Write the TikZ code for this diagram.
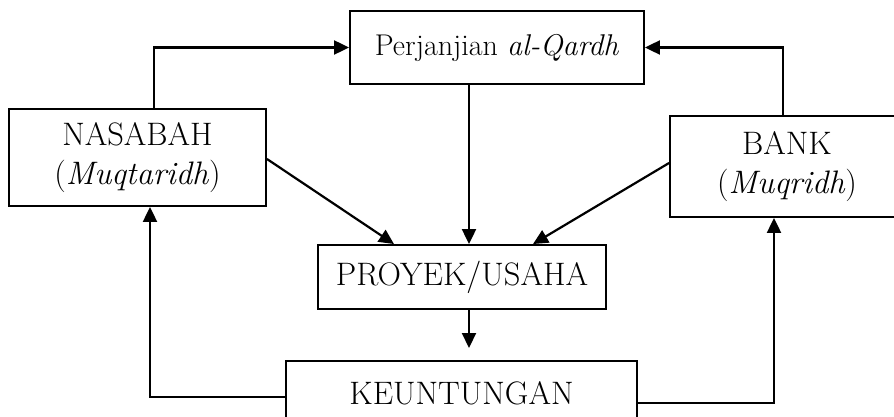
\documentclass[tikz,border=0pt]{standalone}
\usepackage{fontspec}
\setmainfont{Latin Modern Roman}
\usetikzlibrary{arrows.meta,calc}
\begin{document}
\begin{tikzpicture}[x=1pt,y=-1pt,
  box/.style={draw,line width=1.9pt,rectangle,inner sep=0pt,align=center,
    font=\fontsize{32.5}{39}\selectfont},
  conn/.style={line width=2.2pt},
  arr/.style={conn,-{Triangle[length=15pt,width=14pt]}}]
\useasboundingbox (0,0) rectangle (894,417);
\clip (0,0) rectangle (894,417);
\node[box,minimum width=294pt,minimum height=73pt,font=\fontsize{30}{36}\selectfont] (perj) at (497,47.5) {Perjanjian \textit{al-Qardh}};
\node[box,minimum width=257pt,minimum height=97pt] (nas) at (137.5,157.5) {NASABAH\\(\textit{Muqtaridh})};
\node[box,minimum width=234pt,minimum height=101pt] (bank) at (787,166.5) {BANK\\(\textit{Muqridh})};
\node[box,minimum width=288pt,minimum height=64pt] (proj) at (462,277) {PROYEK/USAHA};
\node[box,minimum width=351pt,minimum height=64pt] (keun) at (461.5,393) {KEUNTUNGAN};
\coordinate (pend) at (469,348);
% top links
\draw[arr] (nas.north -| 154,0) |- (perj.west);
\draw[arr] (bank.north -| 783,0) |- (perj.east);
% into project
\draw[arr] (perj.south -| 469,0) -- (proj.north -| 469,0);
\draw[arr] (nas.east |- 0,159) -- (proj.north -| 394,0);
\draw[arr] (bank.west |- 0,163) -- (proj.north -| 533,0);
% to profit
\draw[arr] (proj.south -| 469,0) -- (pend);
% profit back
\draw[arr] (keun.west |- 0,397) -| (nas.south -| 150,0);
\draw[arr] (keun.east |- 0,403) -| (bank.south -| 774,0);
\end{tikzpicture}
\end{document}
